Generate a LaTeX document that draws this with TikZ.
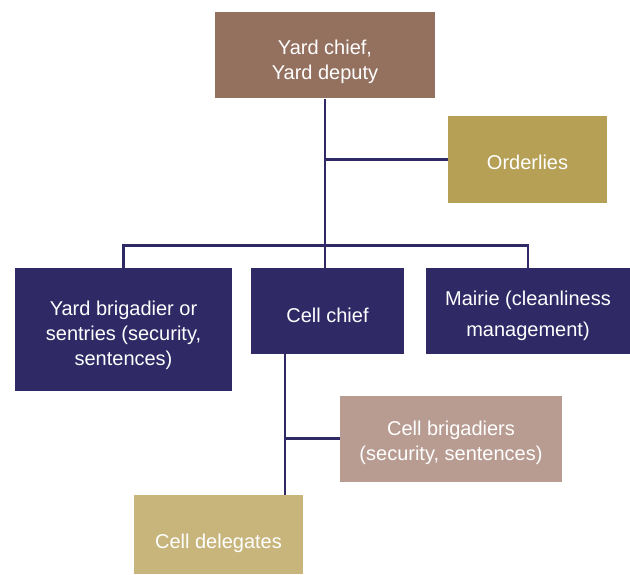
\documentclass[tikz,border=0pt]{standalone}
\usepackage{fontspec}
\setmainfont{Liberation Sans}
\definecolor{chiefbrown}{HTML}{94705F}
\definecolor{ordgold}{HTML}{B5A055}
\definecolor{navy}{HTML}{2F2966}
\definecolor{rosegrey}{HTML}{B89C92}
\definecolor{delegsand}{HTML}{C7B57B}
\begin{document}
\begin{tikzpicture}[x=0.75pt, y=-0.75pt,
    box/.style={rectangle, inner sep=0pt},
    txt/.style={inner sep=0pt, text=white, align=center,
        font=\fontsize{15}{18.75}\selectfont},
    link/.style={draw=navy, line width=1.6pt}]
    \useasboundingbox (0,0) rectangle (630,574);
    \node[box, fill=chiefbrown, minimum width=220*0.75pt, minimum height=86*0.75pt] (top) at (325,55.5) {};
    \node[box, fill=ordgold, minimum width=159*0.75pt, minimum height=86*0.75pt] (ord) at (527.5,159.5) {};
    \node[box, fill=navy, minimum width=217*0.75pt, minimum height=123*0.75pt] (brig) at (123.5,329.5) {};
    \node[box, fill=navy, minimum width=153*0.75pt, minimum height=86*0.75pt] (cchief) at (327.5,311) {};
    \node[box, fill=navy, minimum width=204*0.75pt, minimum height=86*0.75pt] (mairie) at (528,311) {};
    \node[box, fill=rosegrey, minimum width=222*0.75pt, minimum height=86*0.75pt] (cbrig) at (451,438.5) {};
    \node[box, fill=delegsand, minimum width=169*0.75pt, minimum height=79*0.75pt] (deleg) at (218.5,534.5) {};
    % labels
    \node[txt] (toptxt) at ([yshift=-4.5pt]top.center) {Yard chief,\\Yard deputy};
    \node[txt] (ordtxt) at ([yshift=-2.5pt]ord.center) {Orderlies};
    \node[txt] (brigtxt) at ([yshift=-4.5pt]brig.center) {Yard brigadier or\\sentries (security,\\sentences)};
    \node[txt] (cchieftxt) at ([yshift=-3pt]cchief.center) {Cell chief};
    \node[txt] (mairietxt) at ([yshift=-3.5pt]mairie.center) {Mairie (cleanliness\\[5pt]management)};
    \node[txt] (cbrigtxt) at ([yshift=-3.5pt]cbrig.center) {Cell brigadiers\\(security, sentences)};
    \node[txt] (delegtxt) at ([yshift=-6.5pt]deleg.center) {Cell delegates};
    \coordinate (bus) at (325,245.5);
    \coordinate (cdrop) at (285,354);
    \draw[link] (top.south) -- (bus);
    \draw[link] (top.south |- ord.west) -- (ord.west);
    \draw[link] (brig.north) |- (bus) -| (mairie.north);
    \draw[link] (bus) -- (bus |- cchief.north);
    \draw[link] (cdrop) -- (cdrop |- deleg.north);
    \draw[link] (cdrop |- cbrig.west) -- (cbrig.west);
\end{tikzpicture}
\end{document}
